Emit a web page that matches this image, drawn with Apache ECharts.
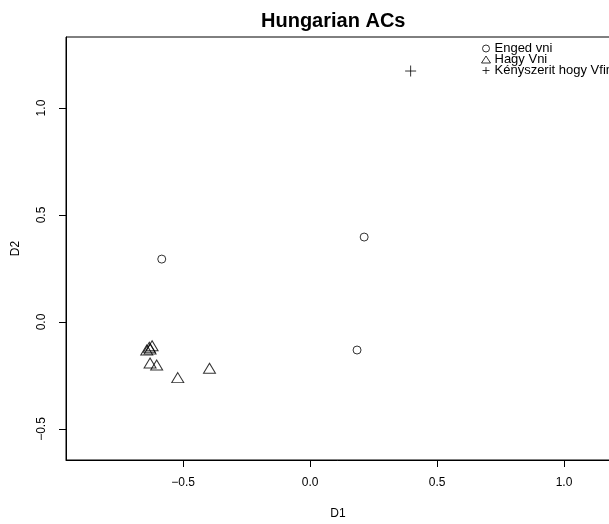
<!DOCTYPE html>
<html>
<head>
<meta charset="utf-8">
<title>Hungarian ACs</title>
<script src="https://cdn.jsdelivr.net/npm/echarts@6/dist/echarts.min.js"></script>
<style>
  html, body { margin: 0; padding: 0; background: #fff; }
  #chart { width: 609px; height: 524px; }
</style>
</head>
<body>
<div id="chart"></div>
<script>
// Configuration coordinates on the two dimensions D1 / D2
const engedX = [-0.584, 0.213, 0.185];
const engedY = [0.294, 0.397, -0.131];

const hagyX = [-0.643, -0.633, -0.622, -0.630, -0.630, -0.604, -0.521, -0.396];
const hagyY = [-0.131, -0.118, -0.111, -0.126, -0.192, -0.201, -0.260, -0.216];

const kenyX = [0.396];
const kenyY = [1.173];

const seriesNames = ['Enged vni', 'Hagy Vni', 'Kényszerit hogy Vfin'];
const xTicks = [-0.5, 0.0, 0.5, 1.0];
const yTicks = [-0.5, 0.0, 0.5, 1.0];

const pairs = (xs, ys) => xs.map((x, i) => [x, ys[i]]);
const fmt = v => v.toFixed(1).replace('-', '\u2212');

const FONT = '"Liberation Sans", Arial, Helvetica, sans-serif';
const plusPath = 'path://M5 0 L5 10 M0 5 L10 5';

const hollow = { color: 'rgba(0,0,0,0)', borderColor: '#000', borderWidth: 1 };

const chart = echarts.init(document.getElementById('chart'), null, { renderer: 'canvas' });

chart.setOption({
  animation: false,
  backgroundColor: '#fff',
  title: {
    text: 'Hungarian ACs',
    left: 256,
    top: 6,
    textStyle: { fontFamily: FONT, fontWeight: 'bold', fontSize: 20, color: '#000' }
  },
  legend: {
    orient: 'vertical',
    left: 481,
    top: 42,
    itemWidth: 9,
    itemHeight: 7,
    itemGap: -2,
    padding: 0,
    textStyle: { fontFamily: FONT, fontSize: 13, lineHeight: 11, color: '#000', padding: [0, 0, 0, -1] },
    data: [
      { name: seriesNames[0], icon: 'circle', itemStyle: hollow },
      { name: seriesNames[1], icon: 'triangle', itemStyle: hollow },
      { name: seriesNames[2], icon: plusPath, itemStyle: hollow }
    ]
  },
  grid: {
    left: 66, top: 37, width: 544, height: 423,
    show: true, borderColor: '#000', borderWidth: 1,
    containLabel: false,
    outerBoundsMode: 'none'
  },
  xAxis: {
    type: 'value',
    min: -0.961, max: 1.181,
    name: 'D1',
    nameLocation: 'middle',
    nameGap: 48,
    nameTextStyle: { fontFamily: FONT, fontSize: 12, color: '#000' },
    axisLine: { show: true, onZero: false, lineStyle: { color: '#000', width: 1 } },
    axisTick: { show: true, inside: false, length: 7, customValues: xTicks, lineStyle: { color: '#000' } },
    axisLabel: { customValues: xTicks, formatter: fmt, margin: 17, fontFamily: FONT, fontSize: 12, color: '#000' },
    splitLine: { show: false }
  },
  yAxis: {
    type: 'value',
    min: -0.645, max: 1.332,
    name: 'D2',
    nameLocation: 'middle',
    nameGap: 44,
    nameRotate: 90,
    nameTextStyle: { fontFamily: FONT, fontSize: 12, color: '#000' },
    axisLine: { show: true, onZero: false, lineStyle: { color: '#000', width: 1 } },
    axisTick: { show: true, inside: false, length: 7, customValues: yTicks, lineStyle: { color: '#000' } },
    axisLabel: { customValues: yTicks, formatter: fmt, rotate: 90, margin: 18, fontFamily: FONT, fontSize: 12, color: '#000' },
    splitLine: { show: false }
  },
  series: [
    {
      name: seriesNames[0],
      type: 'scatter',
      symbol: 'circle',
      symbolSize: 8,
      itemStyle: hollow,
      data: pairs(engedX, engedY)
    },
    {
      name: seriesNames[1],
      type: 'scatter',
      symbol: 'triangle',
      symbolSize: [12, 10],
      itemStyle: hollow,
      data: pairs(hagyX, hagyY)
    },
    {
      name: seriesNames[2],
      type: 'scatter',
      symbol: plusPath,
      symbolSize: 11,
      itemStyle: hollow,
      data: pairs(kenyX, kenyY)
    }
  ]
});
</script>
</body>
</html>
